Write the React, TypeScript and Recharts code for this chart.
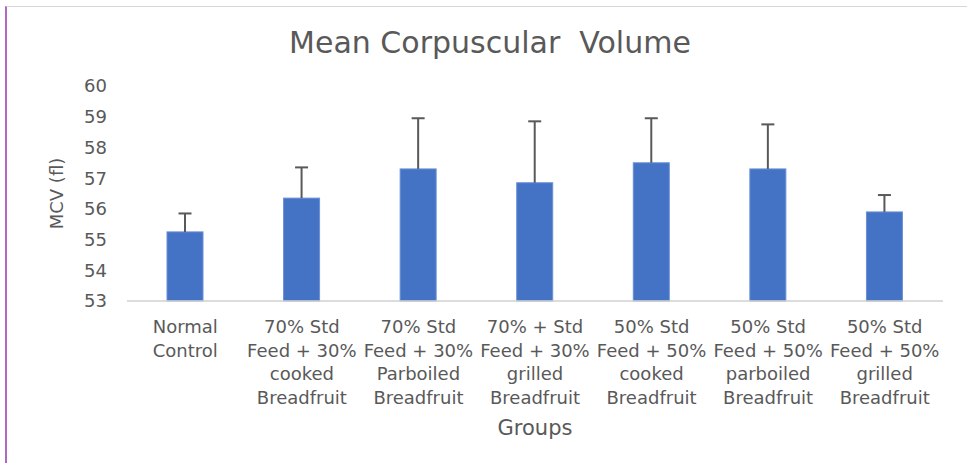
import React from 'react';
import { BarChart, Bar, XAxis, YAxis } from 'recharts';

// group names, '\n' marks the line breaks used under the axis
const groups = [
  'Normal\nControl',
  '70% Std\nFeed + 30%\ncooked\nBreadfruit',
  '70% Std\nFeed + 30%\nParboiled\nBreadfruit',
  '70% + Std\nFeed + 30%\ngrilled\nBreadfruit',
  '50% Std\nFeed + 50%\ncooked\nBreadfruit',
  '50% Std\nFeed + 50%\nparboiled\nBreadfruit',
  '50% Std\nFeed + 50%\ngrilled\nBreadfruit',
];
const mcv = [55.25, 56.35, 57.3, 56.85, 57.5, 57.3, 55.9];
const sd = [0.6, 1.0, 1.65, 2.0, 1.45, 1.45, 0.55];
const yTicks = [53, 54, 55, 56, 57, 58, 59, 60];

const AXIS_MIN = 53;
const FONT = '"DejaVu Sans", sans-serif';
const TEXT = '#595959';

const data = groups.map((g, i) => ({ group: g, mcv: mcv[i], sd: sd[i] }));

// bar plus an upward-only error whisker, scaled from the bar's own geometry
const BarWithError = (props: any) => {
  const { x, y, width, height, payload, value } = props;
  const pxPerUnit = height / (value - AXIS_MIN);
  const cx = x + width / 2;
  const top = y - payload.sd * pxPerUnit;
  return (
    <g>
      <rect x={x} y={y} width={width} height={height} fill="#4472C4" stroke="#6b90d8" strokeWidth={1} />
      <line x1={cx} y1={y} x2={cx} y2={top} stroke="#595959" strokeWidth={2} />
      <line x1={cx - 6.5} y1={top} x2={cx + 6.5} y2={top} stroke="#595959" strokeWidth={2} />
    </g>
  );
};

const GroupTick = ({ x, y, payload }: any) => {
  const lines = String(payload.value).split('\n');
  return (
    <text x={x} y={y} textAnchor="middle" fill={TEXT} fontSize={18} fontFamily={FONT}>
      {lines.map((ln, i) => (
        <tspan key={i} x={x} y={y + 32 + i * 23.5}>{ln}</tspan>
      ))}
    </text>
  );
};

export default function App() {
  return (
    <div style={{ position: 'absolute', left: 0, top: 0, width: 967, height: 463, background: '#fff', overflow: 'hidden' }}>
      <div style={{ position: 'absolute', left: 5, top: 6, width: 962, height: 457, borderTop: '1px solid #d6d6d6', borderLeft: '2px solid #b068c0' }} />
      <div style={{ position: 'absolute', left: 0, top: 27, width: 980, textAlign: 'center', fontFamily: FONT, fontSize: 30, lineHeight: '32px', color: TEXT }}>
        Mean Corpuscular&nbsp; Volume
      </div>
      <BarChart width={967} height={463} data={data} margin={{ top: 86, right: 24, left: 0, bottom: 0 }} barSize={36}>
        <XAxis
          dataKey="group"
          height={162}
          interval={0}
          tickLine={false}
          tickSize={0}
          tickMargin={0}
          axisLine={{ stroke: '#d0d0d0', strokeWidth: 1.5 }}
          tick={<GroupTick />}
          label={{ value: 'Groups', position: 'center', dy: 46, fill: TEXT, fontSize: 21, fontFamily: FONT }}
        />
        <YAxis
          type="number"
          domain={[53, 60]}
          ticks={yTicks}
          width={127}
          axisLine={false}
          tickLine={false}
          tickSize={0}
          tickMargin={20}
          tick={{ fill: TEXT, fontSize: 18, fontFamily: FONT }}
          label={{ value: 'MCV (fl)', angle: -90, position: 'center', dx: -7, fill: TEXT, fontSize: 18, fontFamily: FONT }}
        />
        <Bar dataKey="mcv" shape={<BarWithError />} isAnimationActive={false} />
      </BarChart>
    </div>
  );
}
